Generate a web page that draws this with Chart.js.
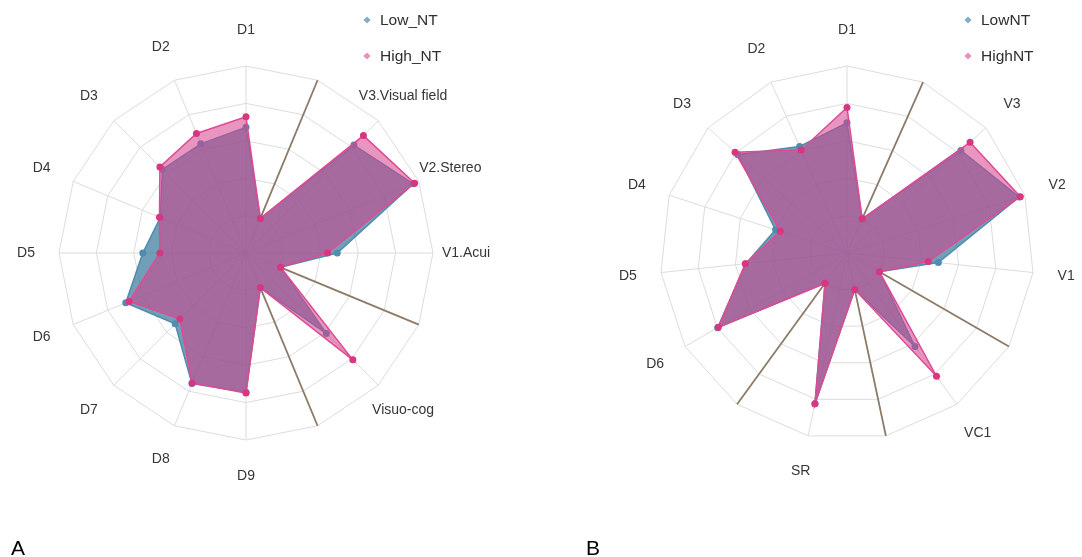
<!DOCTYPE html>
<html>
<head>
<meta charset="utf-8">
<script src="https://cdn.jsdelivr.net/npm/chart.js@4/dist/chart.umd.min.js"></script>
<style>
  html, body { margin: 0; padding: 0; background: #ffffff; }
  body { width: 1082px; height: 557px; position: relative; overflow: hidden; font-family: "Liberation Sans", Arial, sans-serif; }
  canvas { position: absolute; top: 0; }
  #chartA { left: 0; }
  #chartB { left: 541px; }
  .panel { position: absolute; font-size: 21px; color: #000; line-height: 1; }
</style>
</head>
<body>
<canvas id="chartA" width="541" height="557"></canvas>
<canvas id="chartB" width="541" height="557"></canvas>
<div class="panel" style="left:11px; top:537px;">A</div>
<div class="panel" style="left:586px; top:537px;">B</div>
<script>
// Panel A: domain and visual axes (empty label = separator spoke)
const labelsA = ['D1', '', 'V3.Visual field', 'V2.Stereo', 'V1.Acui', '', 'Visuo-cog', '', 'D9', 'D8', 'D7', 'D6', 'D5', 'D4', 'D3', 'D2'];
const lowNT_A  = [59, 0, 77, 96, 36, 0, 51, 0, 68, 69.5, 42, 62, 44, 37, 54, 54];
const highNT_A = [66, 0, 86, 97, 29.5, 0, 76, 0, 68.6, 69, 37.5, 59.5, 32.6, 37.6, 56.4, 61.5];
const seriesNamesA = ['Low_NT', 'High_NT'];

// Panel B
const labelsB = ['D1', '', 'V3', 'V2', 'V1', '', 'VC1', '', 'SR', '', 'D6', 'D5', 'D4', 'D3', 'D2'];
const lowNT_B  = [62, 0, 77.4, 96, 36.4, 0, 52.3, 0, 78, 0, 74.8, 43, 25.2, 73.2, 52.9];
const highNT_B = [72.3, 0, 85.7, 96.8, 29.6, 0, 76.8, 0, 78, 0, 74.4, 43.4, 21.9, 75.7, 50.4];
const seriesNamesB = ['LowNT', 'HighNT'];

// Radial scale range (inner ring = 0)
const scaleMin = -25;
const scaleMax = 100;
const scaleStep = 25;

const FONT = '"Liberation Sans", Arial, Helvetica, sans-serif';
const BLUE_LINE = '#4f8cae';
const BLUE_FILL = 'rgba(52, 118, 154, 0.70)';
const BLUE_KEY = '#7fb0c8';
const PINK_LINE = '#e04a93';
const PINK_FILL = 'rgba(214, 64, 140, 0.55)';
const PINK_KEY = '#ea8fbb';
const GRID = '#dcdcdc';
const SPOKE = '#8c7b68';

// Separator spokes: from the zero ring out to the outer ring
const separatorSpokes = {
  id: 'separatorSpokes',
  beforeDatasetsDraw(chart) {
    const s = chart.scales.r;
    const ctx = chart.ctx;
    const inner = s.getDistanceFromCenterForValue(0);
    const outer = s.getDistanceFromCenterForValue(s.max);
    ctx.save();
    ctx.strokeStyle = SPOKE;
    ctx.lineWidth = 1.8;
    chart.data.labels.forEach((lab, i) => {
      if (lab !== '') return;
      const a = s.getPointPosition(i, inner);
      const b = s.getPointPosition(i, outer);
      ctx.beginPath();
      ctx.moveTo(a.x, a.y);
      ctx.lineTo(b.x, b.y);
      ctx.stroke();
    });
    ctx.restore();
  }
};

// Axis names centred just outside the outer ring
const axisLabels = {
  id: 'axisLabels',
  afterDatasetsDraw(chart) {
    const s = chart.scales.r;
    const ctx = chart.ctx;
    ctx.save();
    ctx.font = '14px ' + FONT;
    ctx.fillStyle = '#363636';
    ctx.textAlign = 'center';
    ctx.textBaseline = 'middle';
    chart.data.labels.forEach((lab, i) => {
      if (!lab) return;
      const ang = s.getIndexAngle(i);
      const off = s.drawingArea + 33 + 3 * Math.abs(Math.cos(ang));
      const p = s.getPointPosition(i, off);
      ctx.fillText(lab, p.x, p.y);
    });
    ctx.restore();
  }
};

// Diamond-keyed legend at the top right of each radar
const diamondLegend = {
  id: 'diamondLegend',
  afterDraw(chart) {
    const s = chart.scales.r;
    const ctx = chart.ctx;
    const x = s.xCenter + 121;
    const rows = [20, 56];
    ctx.save();
    ctx.font = '15.5px ' + FONT;
    ctx.textAlign = 'left';
    ctx.textBaseline = 'middle';
    chart.data.datasets.forEach((ds, k) => {
      const y = rows[k];
      const h = 3.6;
      ctx.fillStyle = ds.keyColor;
      ctx.beginPath();
      ctx.moveTo(x, y - h);
      ctx.lineTo(x + h, y);
      ctx.lineTo(x, y + h);
      ctx.lineTo(x - h, y);
      ctx.closePath();
      ctx.fill();
      ctx.fillStyle = '#2e2e2e';
      ctx.fillText(ds.label, x + 13, y + 1);
    });
    ctx.restore();
  }
};

function makeRadar(id, labels, low, high, names, padLeft) {
  return new Chart(document.getElementById(id), {
    type: 'radar',
    data: {
      labels: labels,
      datasets: [
        {
          label: names[0], data: low, order: 1,
          borderColor: BLUE_LINE, backgroundColor: BLUE_FILL, keyColor: BLUE_KEY,
          borderWidth: 1.5, fill: 'start',
          pointRadius: 3.5, pointBackgroundColor: BLUE_LINE, pointBorderColor: BLUE_LINE, pointBorderWidth: 0
        },
        {
          label: names[1], data: high, order: 0,
          borderColor: PINK_LINE, backgroundColor: PINK_FILL, keyColor: PINK_KEY,
          borderWidth: 1.5, fill: 'start',
          pointRadius: 3.5, pointBackgroundColor: '#d8367f', pointBorderColor: '#d8367f', pointBorderWidth: 0
        }
      ]
    },
    options: {
      responsive: false,
      animation: false,
      devicePixelRatio: 1,
      layout: { padding: { left: padLeft, right: 541 - padLeft - 374, top: 66, bottom: 557 - 66 - 374 } },
      plugins: { legend: { display: false }, tooltip: { enabled: false }, filler: { propagate: false } },
      elements: { line: { tension: 0 } },
      scales: {
        r: {
          min: scaleMin,
          max: scaleMax,
          startAngle: 0,
          ticks: { display: false, stepSize: scaleStep },
          pointLabels: { display: false },
          grid: { color: GRID, lineWidth: 1, circular: false },
          angleLines: { color: GRID, lineWidth: 1 }
        }
      }
    },
    plugins: [separatorSpokes, axisLabels, diamondLegend]
  });
}

makeRadar('chartA', labelsA, lowNT_A, highNT_A, seriesNamesA, 59);
makeRadar('chartB', labelsB, lowNT_B, highNT_B, seriesNamesB, 119);
</script>
</body>
</html>
